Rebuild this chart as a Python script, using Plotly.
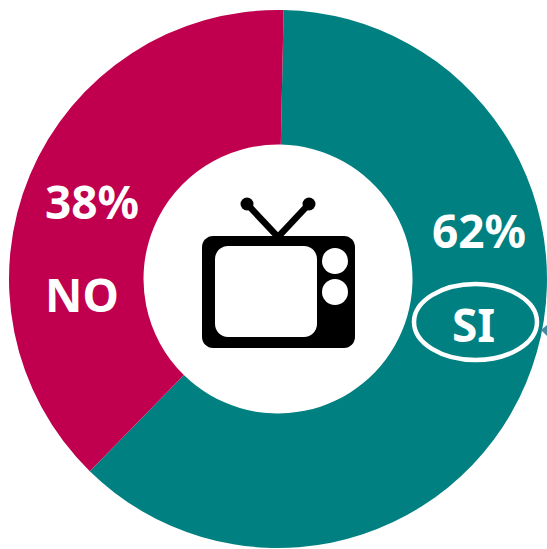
import plotly.graph_objects as go

# Survey answers
categories = ["SI", "NO"]
shares = [62, 38]
slice_colors = ["#008080", "#C0004E"]

WIDTH, HEIGHT = 547, 549
CX, CY, RADIUS = 278.0, 279.0, 269.0


def px(x):
    return x / WIDTH


def py(y):
    return 1 - y / HEIGHT


def rounded_rect(x0, y0, x1, y1, r):
    """Closed SVG path for a rounded rectangle, in paper coordinates."""
    k = r * 0.45
    pts = [
        ("M", x0 + r, y0),
        ("L", x1 - r, y0),
        ("C", x1 - k, y0, x1, y0 + k, x1, y0 + r),
        ("L", x1, y1 - r),
        ("C", x1, y1 - k, x1 - k, y1, x1 - r, y1),
        ("L", x0 + r, y1),
        ("C", x0 + k, y1, x0, y1 - k, x0, y1 - r),
        ("L", x0, y0 + r),
        ("C", x0, y0 + k, x0 + k, y0, x0 + r, y0),
    ]
    out = []
    for p in pts:
        coords = p[1:]
        pairs = [f"{px(coords[i]):.5f},{py(coords[i + 1]):.5f}" for i in range(0, len(coords), 2)]
        out.append(p[0] + " ".join(pairs))
    return " ".join(out) + " Z"


def circle(x, y, r, fill):
    return dict(type="circle", xref="paper", yref="paper",
                x0=px(x - r), x1=px(x + r), y0=py(y + r), y1=py(y - r),
                fillcolor=fill, line=dict(width=0))


def filled(path, fill):
    return dict(type="path", xref="paper", yref="paper", path=path,
                fillcolor=fill, line=dict(width=0))


def stroke(x0, y0, x1, y1, w):
    return dict(type="line", xref="paper", yref="paper",
                x0=px(x0), y0=py(y0), x1=px(x1), y1=py(y1),
                line=dict(color="black", width=w))


fig = go.Figure(go.Pie(
    labels=categories,
    values=shares,
    sort=False,
    direction="clockwise",
    rotation=1.2,
    hole=0.5,
    marker=dict(colors=slice_colors, line=dict(width=0)),
    textinfo="none",
    hoverinfo="label+percent",
    showlegend=False,
    domain=dict(x=[px(CX - RADIUS), px(CX + RADIUS)], y=[py(CY + RADIUS), py(CY - RADIUS)]),
))

# Television icon in the hole, plus the ellipse around the SI label
shapes = [
    stroke(278, 237, 247, 204, 6.5),
    stroke(278, 237, 309, 204, 6.5),
    circle(247, 204, 6.5, "black"),
    circle(309, 204, 6.5, "black"),
    filled(rounded_rect(202, 236, 355, 348, 11), "black"),
    filled(rounded_rect(215, 246, 317, 337, 13), "white"),
    circle(335, 261, 13, "white"),
    circle(335, 292, 13, "white"),
    dict(type="circle", xref="paper", yref="paper",
         x0=px(414), x1=px(537), y0=py(360), y1=py(284),
         fillcolor="rgba(0,0,0,0)", line=dict(color="white", width=4.5)),
    dict(type="path", xref="paper", yref="paper",
         path=f"M{px(541):.5f},{py(330):.5f} L{px(547):.5f},{py(325):.5f} L{px(547):.5f},{py(336):.5f} Z",
         fillcolor="#4A8AA0", line=dict(width=0)),
]


def label(text, x, y):
    return dict(text=f"<b>{text}</b>", xref="paper", yref="paper", x=px(x), y=py(y),
                xanchor="center", yanchor="middle", showarrow=False,
                font=dict(family="Noto Sans", size=46, color="white"))


annotations = [
    label(f"{shares[0]}%", 479, 230),
    label(categories[0], 473, 324),
    label(f"{shares[1]}%", 92, 201),
    label(categories[1], 82, 294),
]

fig.update_layout(
    width=WIDTH, height=HEIGHT,
    margin=dict(l=0, r=0, t=0, b=0),
    paper_bgcolor="white",
    shapes=shapes,
    annotations=annotations,
)

fig.write_html("out.html", config=dict(displayModeBar=False))
